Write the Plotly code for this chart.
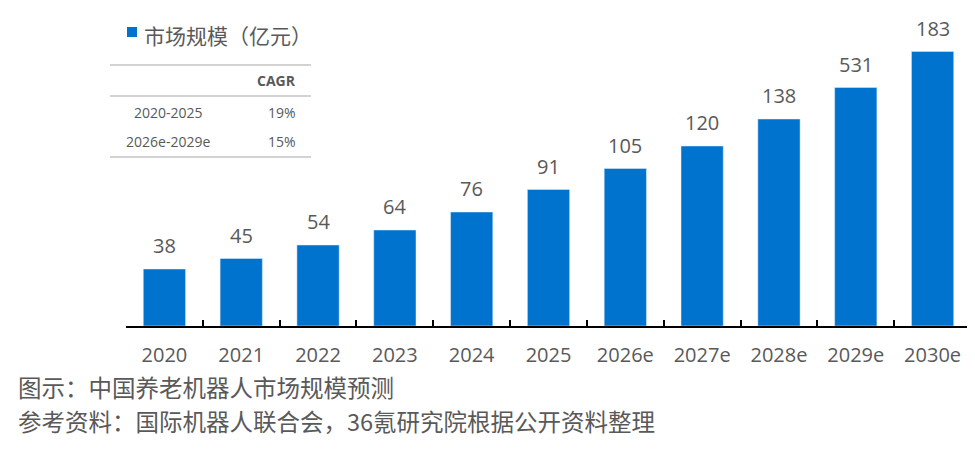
import plotly.graph_objects as go

years = ["2020", "2021", "2022", "2023", "2024", "2025",
         "2026e", "2027e", "2028e", "2029e", "2030e"]
values = [38, 45, 54, 64, 76, 91, 105, 120, 138, 159, 183]
value_labels = ["38", "45", "54", "64", "76", "91", "105", "120", "138", "531", "183"]

legend_name = "市场规模（亿元）"
table_header = ["", "CAGR"]
table_periods = ["2020-2025", "2026e-2029e"]
table_rates = ["19%", "15%"]
caption_1 = "图示：中国养老机器人市场规模预测"
caption_2 = "参考资料：国际机器人联合会，36氪研究院根据公开资料整理"

OFF = 8  # page body margin
W, H = 975 - OFF, 449 - OFF
L, R, T, B = 118, 4, 12, 123
PW, PH = W - L - R, H - T - B
BLUE = "#0073CF"
GREY = "#595959"
FONT = "Open Sans, Noto Sans CJK SC, sans-serif"
CJK = "Noto Sans CJK SC, sans-serif"


def px(x):
    return (x - OFF - L) / PW


def py(y):
    return (H - B - (y - OFF)) / PH


fig = go.Figure()
fig.add_trace(go.Bar(x=years, y=values, marker_color=BLUE, width=0.55,
                     showlegend=False, hoverinfo="x+y"))

annotations = []
for i, (v, lab) in enumerate(zip(values, value_labels)):
    annotations.append(dict(x=i, y=v, xref="x", yref="y", text=lab,
                            showarrow=False, yanchor="bottom", yshift=8,
                            font=dict(family=FONT, size=20, color=GREY)))

shapes = []
# legend marker
shapes.append(dict(type="rect", xref="paper", yref="paper",
                   x0=px(127), x1=px(137), y0=py(37), y1=py(27),
                   fillcolor=BLUE, line=dict(width=0)))
annotations.append(dict(x=px(142), y=py(35), xref="paper", yref="paper",
                        text=legend_name, showarrow=False, xanchor="left",
                        yanchor="middle",
                        font=dict(family=CJK, size=21, color=GREY)))
# table lines
for yy in [65, 96, 157]:
    shapes.append(dict(type="line", xref="paper", yref="paper",
                       x0=px(110), x1=px(311), y0=py(yy), y1=py(yy),
                       line=dict(color="#A6A6A6", width=1.2)))
annotations.append(dict(x=px(298), y=py(81), xref="paper", yref="paper",
                        text="<b>" + table_header[1] + "</b>", showarrow=False,
                        xanchor="right", yanchor="middle",
                        font=dict(family=FONT, size=14, color=GREY)))
row_y = [112, 141]
for ry, per, rate in zip(row_y, table_periods, table_rates):
    annotations.append(dict(x=px(168), y=py(ry), xref="paper", yref="paper",
                            text=per, showarrow=False, xanchor="center",
                            yanchor="middle",
                            font=dict(family=FONT, size=14, color=GREY)))
    annotations.append(dict(x=px(298), y=py(ry), xref="paper", yref="paper",
                            text=rate, showarrow=False, xanchor="right",
                            yanchor="middle",
                            font=dict(family=FONT, size=14, color=GREY)))
# captions
annotations.append(dict(x=px(16), y=py(387), xref="paper", yref="paper",
                        text=caption_1, showarrow=False, xanchor="left",
                        yanchor="middle",
                        font=dict(family=CJK, size=23.5, color=GREY)))
annotations.append(dict(x=px(16), y=py(421), xref="paper", yref="paper",
                        text=caption_2, showarrow=False, xanchor="left",
                        yanchor="middle",
                        font=dict(family=CJK, size=23.5, color=GREY)))

fig.update_layout(
    width=W, height=H,
    margin=dict(l=L, r=R, t=T, b=B, pad=0),
    paper_bgcolor="white", plot_bgcolor="white",
    shapes=shapes, annotations=annotations,
    bargap=0.45,
    xaxis=dict(type="category", range=[-0.5, len(years) - 0.5],
               showline=True, linecolor="#000000",
               linewidth=2, ticks="inside", ticklen=6, tickwidth=1.5,
               tickcolor="#000000", tickson="boundaries", showgrid=False,
               ticklabelstandoff=10, tickangle=0,
               tickfont=dict(family=FONT, size=20, color=GREY)),
    yaxis=dict(range=[0, PH / 1.5], visible=False, showgrid=False,
               zeroline=False),
)

fig.write_html("out.html")
